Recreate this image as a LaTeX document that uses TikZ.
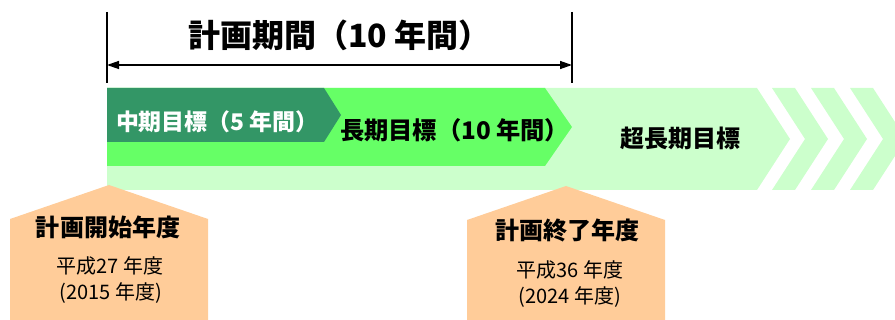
\documentclass[tikz,border=0pt]{standalone}
\usepackage{fontspec}
\setmainfont{Noto Sans CJK JP}
\usetikzlibrary{arrows.meta}
\definecolor{dkgreen}{RGB}{51,150,102}
\definecolor{brgreen}{RGB}{102,255,102}
\definecolor{ltgreen}{RGB}{204,255,204}
\definecolor{orangebox}{RGB}{255,204,153}
\tikzset{
  lbl/.style={inner sep=0pt, outer sep=0pt},
  ttl/.style={lbl, font=\bfseries\fontsize{24}{26}\selectfont},
  barlbl/.style={lbl, font=\bfseries\fontsize{17.2}{19}\selectfont},
  longlbl/.style={lbl, font=\bfseries\fontsize{18.2}{20}\selectfont},
  boxhead/.style={lbl, font=\bfseries\fontsize{18}{20}\selectfont},
  boxyear/.style={lbl, font=\fontsize{15}{17}\selectfont},
  dimline/.style={line width=1pt, {Triangle[length=9pt,width=6pt]}-{Triangle[length=9pt,width=6pt]}},
  tick/.style={line width=1pt}
}
\begin{document}
\begin{tikzpicture}[x=0.75pt,y=-0.75pt]
\useasboundingbox (0,0) rectangle (895,320);
% band
\fill[ltgreen] (107,88) -- (757,88) -- (790,139) -- (757,190) -- (107,190) -- cycle;
\foreach \k in {0,1,2}{
  \fill[ltgreen] ({772+39*\k},88) -- ({795+39*\k},88) -- ({828+39*\k},139) -- ({795+39*\k},190)
     -- ({772+39*\k},190) -- ({805+39*\k},139) -- cycle;
}
\fill[brgreen] (107,88) -- (545,88) -- (572,127) -- (545,166) -- (107,166) -- cycle;
\fill[dkgreen] (107,88) -- (324,88) -- (341,115) -- (324,142) -- (107,142) -- cycle;
% start / end boxes
\fill[orangebox] (10,219) -- (109,185) -- (208,219) -- (208,320) -- (10,320) -- cycle;
\fill[orangebox] (467,220) -- (566,186) -- (665,220) -- (665,320) -- (467,320) -- cycle;
% dimension
\coordinate (ls) at (107,12);
\coordinate (le) at (107,83);
\coordinate (rs) at (572,12);
\coordinate (re) at (572,83);
\coordinate (la) at (107,65);
\coordinate (ra) at (572,65);
\draw[tick] (ls) -- (le);
\draw[tick] (rs) -- (re);
\draw[dimline] (la) -- (ra);
\node[ttl, anchor=west] (title) at (188,35) {計画期間（10 年間）};
% bar labels
\node[barlbl, anchor=west, text=white] (mid) at (116,122) {中期目標（5 年間）};
\node[longlbl, anchor=west] (long) at (340,130) {長期目標（10 年間）};
\node[boxhead] (super) at (680,138) {超長期目標};
% box labels
\node[boxhead] (starthead) at (108,227) {計画開始年度};
\node[boxyear] (startyr) at (110,266) {平成27 年度};
\node[boxyear] (startad) at (111,293) {(2015 年度)};
\node[boxhead] (endhead) at (567,230) {計画終了年度};
\node[boxyear] (endyr) at (570,270) {平成36 年度};
\node[boxyear] (endad) at (570,297) {(2024 年度)};
\end{tikzpicture}
\end{document}
